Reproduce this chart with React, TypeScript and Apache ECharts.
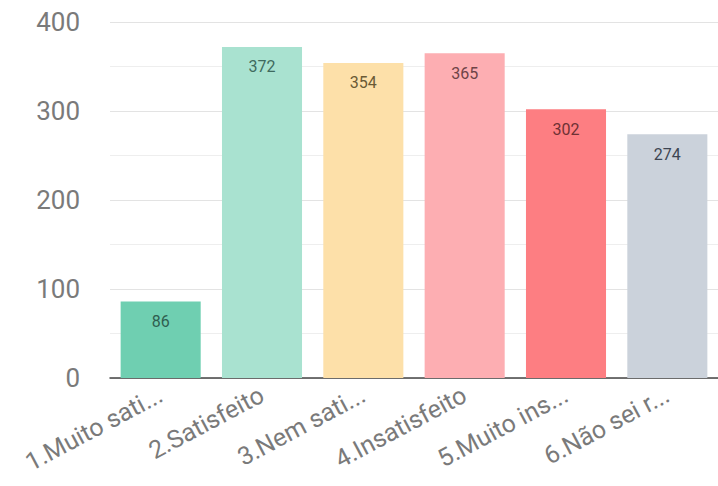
import React, { useEffect, useRef } from "react";
import * as echarts from "echarts";

const categories = ["1.Muito sati...", "2.Satisfeito", "3.Nem sati...", "4.Insatisfeito", "5.Muito ins...", "6.Não sei r..."];
const values = [86, 372, 354, 365, 302, 274];
const barColors = ["#6fcfb1", "#a9e2d0", "#fde0a9", "#fdaeb2", "#fd7e82", "#cbd2db"];
const labelColors = ["#2f5e50", "#3f6a5e", "#6a5a35", "#6e4347", "#6e3134", "#3d4552"];
const yTicks = [0, 100, 200, 300, 400];

export default function App() {
  const ref = useRef<HTMLDivElement>(null);
  useEffect(() => {
    const chart = echarts.init(ref.current!, null, { renderer: "svg" });
    chart.setOption({
      animation: false,
      grid: { left: 110, right: 0, top: 22, bottom: 108, containLabel: false },
      xAxis: {
        type: "category",
        data: categories,
        axisLine: { show: true, lineStyle: { color: "#444", width: 1.5 } },
        axisTick: { show: false },
        axisLabel: {
          rotate: 28,
          interval: 0,
          margin: 15,
          fontSize: 25,
          color: "#7a7a7a",
          fontFamily: "Roboto",
        },
      },
      yAxis: {
        type: "value",
        min: yTicks[0],
        max: yTicks[yTicks.length - 1],
        interval: 100,
        axisLine: { show: false },
        axisTick: { show: false },
        axisLabel: { fontSize: 26, color: "#7a7a7a", margin: 30, fontFamily: "Roboto" },
        splitLine: { lineStyle: { color: "#e3e3e3", width: 1 } },
        minorTick: { show: false, splitNumber: 2 },
        minorSplitLine: { show: true, lineStyle: { color: "#eeeeee", width: 1 } },
      },
      series: [
        {
          type: "bar",
          barWidth: "79%",
          data: values.map((v, i) => ({
            value: v,
            itemStyle: { color: barColors[i] },
            label: { color: labelColors[i] },
          })),
          label: {
            show: true,
            position: "insideTop",
            distance: 12,
            fontSize: 16,
            fontFamily: "Roboto",
          },
        },
      ],
    });
    return () => chart.dispose();
  }, []);
  return <div ref={ref} style={{ width: 718, height: 486, position: "absolute", left: 0, top: 0 }} />;
}
